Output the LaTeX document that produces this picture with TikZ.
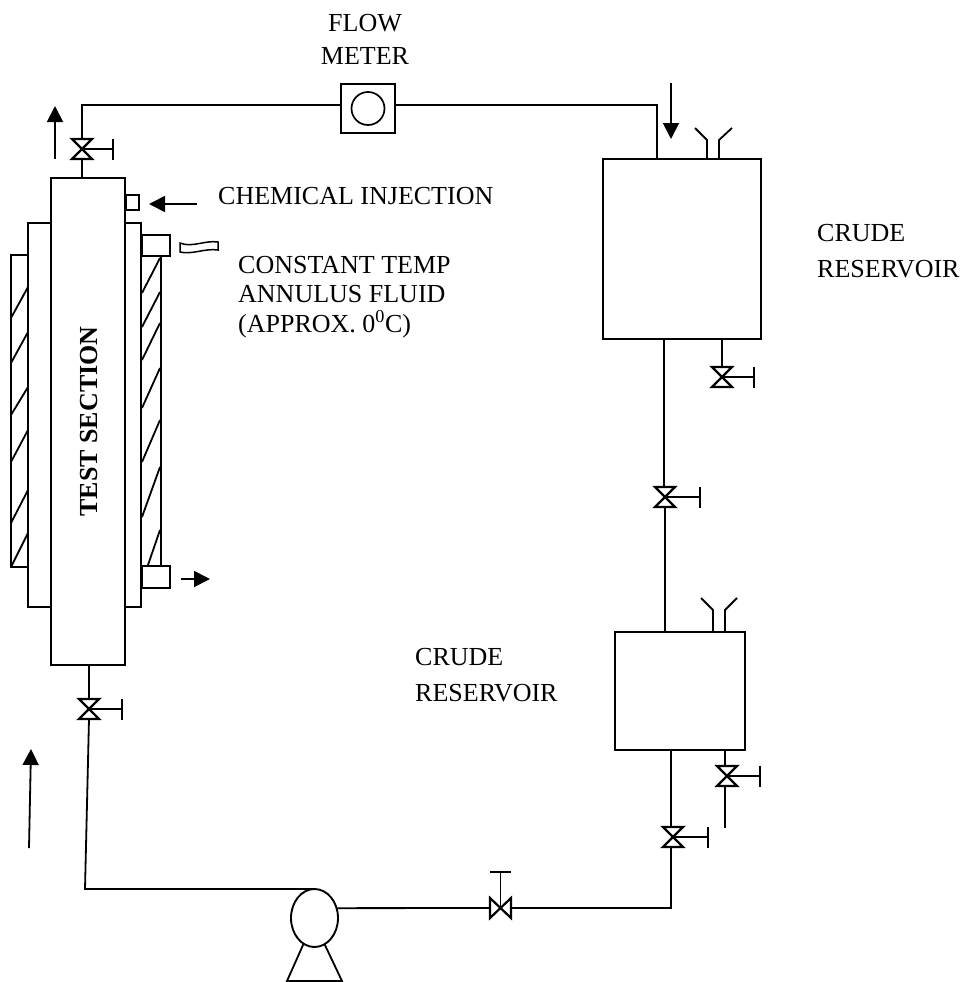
\documentclass[tikz,border=0pt]{standalone}
\usepackage{fontspec}
\setmainfont{Liberation Serif}
\usetikzlibrary{arrows.meta,positioning,shapes.geometric,calc}
\tikzset{
  pipe/.style={line width=1.8pt},
  vessel/.style={draw, line width=1.9pt, inner sep=0pt, outer sep=0pt},
  hatchline/.style={line width=1.8pt},
  valvebox/.style={inner sep=0pt, outer sep=0pt, minimum width=20pt, minimum height=20pt},
  valveline/.style={line width=2.2pt},
  handle/.style={line width=1.6pt},
  flow/.style={line width=1.8pt, -{Triangle[length=16pt,width=16pt]}},
  label/.style={font=\fontsize{26}{33}\selectfont, align=left, inner sep=0pt, anchor=base west},
  labelc/.style={label, align=center, anchor=base}
}
% valve on a vertical pipe, the handle goes to the right
\newcommand{\valve}[4]{
  \node[valvebox] (#1) at (#2,#3) {};
  \coordinate (#1h) at ($(#1.center)+(#4,0)$);
  \draw[valveline] (#1.north west) -- (#1.north east) -- (#1.south west) -- (#1.south east) -- cycle;
  \draw[handle] (#1.center) -- (#1h);
  \draw[handle] ([yshift=10.5pt]#1h) -- ([yshift=-10.5pt]#1h);
}

\begin{document}
\begin{tikzpicture}[x=1pt, y=-1pt]
  \useasboundingbox (0,0) rectangle (964,982);

  % test section
  \node[vessel, minimum width=17pt, minimum height=312pt] (hatchL) at (19.5,411) {};
  \node[vessel, minimum width=20pt, minimum height=310pt] (hatchR) at (151,411) {};
  \node[vessel, minimum width=23pt, minimum height=384pt] (annL) at (39.5,415) {};
  \node[vessel, minimum width=16pt, minimum height=384pt] (annR) at (133,415) {};
  \node[vessel, minimum width=74pt, minimum height=487pt] (test) at (88,421.5) {};
  \node[vessel, minimum width=28pt, minimum height=21pt] (nozT) at (156,245.5) {};
  \node[vessel, minimum width=28pt, minimum height=22pt] (nozB) at (156,577) {};
  \node[vessel, minimum width=13pt, minimum height=15pt] (inj) at (132.5,202.5) {};
  \foreach \ya/\yb in {318/287,363/332,415/387,462/430,523/490,567/533}
    \draw[hatchline] (11,\ya) -- (28,\yb);
  \foreach \ya/\yb in {293/258,327/292,360/323,408/368,462/420,517/467}
    \draw[hatchline] (142,\ya) -- (160,\yb);
  \draw[hatchline] (148,565) -- (160,530);
  \draw[line width=1.5pt] (180,243) .. controls (192,248) and (205,240) .. (218,242) -- (218,250) .. controls (205,248) and (192,255) .. (180,252) -- cycle;
  \node[rotate=90, font=\fontsize{26}{33}\selectfont\bfseries, inner sep=0pt, anchor=base] (testlabel) at (97,421.5) {TEST SECTION};

  % reservoirs and meter
  \node[vessel, minimum width=158pt, minimum height=180pt] (res1) at (682,249) {};
  \node[vessel, minimum width=130pt, minimum height=118pt] (res2) at (680,691) {};
  \node[vessel, minimum width=54pt, minimum height=49pt] (meter) at (368,108.5) {};
  \node[draw, circle, line width=1.7pt, minimum size=33pt, inner sep=0pt] (meterc) at (meter.center) {};
  \node[draw, ellipse, line width=1.9pt, minimum width=47pt, minimum height=58pt, inner sep=0pt, outer sep=0pt] (pump) at (314.5,918) {};

  \draw[pipe] (695,128) -- (707,140) -- (707,159);
  \draw[pipe] (732,128) -- (719,140) -- (719,159);
  \draw[pipe] (701,598) -- (713,610) -- (713,632);
  \draw[pipe] (737,598) -- (725,610) -- (725,632);

  % valves
  \valve{vtop}{82}{149}{31}
  \valve{vbot}{89}{709}{33}
  \valve{vdrain}{722}{377}{32}
  \valve{vmid}{665}{497}{35}
  \valve{vdrainb}{727}{776}{33}
  \valve{vlow}{673}{837}{35}
  \node[valvebox, minimum width=21pt] (vpump) at (500.5,908) {};
  \coordinate (vpumph) at (500.5,872);
  \draw[valveline] (vpump.north west) -- (vpump.south west) -- (vpump.north east) -- (vpump.south east) -- cycle;
  \draw[handle] (vpump.center) -- (vpumph);
  \draw[handle] ([xshift=-10.5pt]vpumph) -- ([xshift=10.5pt]vpumph);

  % pipes
  \coordinate (topL) at (82,105);
  \coordinate (topR) at (657,105);
  \coordinate (botL) at (85,889);
  \coordinate (botR) at (671,908);
  \coordinate (drainend) at (725,828);
  \draw[pipe] (test.north -| vtop) -- (vtop.south);
  \draw[pipe] (vtop.north) -- (topL) -- (topL -| meter.west);
  \draw[pipe] (topL -| meter.east) -- (topR) -- (topR |- res1.north);
  \draw[pipe] (vmid.north -| 664,0) -- (664,0 |- res1.south);
  \draw[pipe] (vdrain.north) -- (vdrain.north |- res1.south);
  \draw[pipe] (vmid.south) -- (vmid.south |- res2.north);
  \draw[pipe] (botR |- res2.south) -- (botR |- vlow.north);
  \draw[pipe] (botR |- vlow.south) -- (botR) -- (vpump.east);
  \draw[pipe] (725,750) -- (725,766);
  \draw[pipe] (725,786) -- (drainend);
  \draw[pipe] (pump.24) -- (vpump.west);
  \draw[pipe] (pump.north) -- (botL) -- (vbot.south);
  \draw[pipe] (vbot.north) -- (vbot.north |- test.south);
  \coordinate (legL) at (287,981);
  \coordinate (legR) at (342,981);
  \draw[pipe] (pump.247) -- (legL) -- (legR) -- (pump.291);

  % flow arrows
  \coordinate (a1s) at (55,159);
  \coordinate (a1e) at (55,106);
  \coordinate (a2s) at (671,83);
  \coordinate (a2e) at (671,139);
  \coordinate (a3s) at (197,204);
  \coordinate (a3e) at (149,204);
  \coordinate (a4s) at (181,579);
  \coordinate (a4e) at (210,579);
  \coordinate (a5s) at (29,848);
  \coordinate (a5e) at (31,749);
  \draw[flow] (a1s) -- (a1e);
  \draw[flow] (a2s) -- (a2e);
  \draw[flow] (a3s) -- (a3e);
  \draw[flow] (a4s) -- (a4e);
  \draw[flow] (a5s) -- (a5e);

  % labels
  \node[labelc] (lmeter) at (365,65) {FLOW\\METER};
  \node[label] (linj) at (218,204) {CHEMICAL INJECTION};
  \node[label] (lannulus) at (238,332) {CONSTANT TEMP\\[-3.5pt]ANNULUS FLUID\\[-3.5pt](APPROX. 0\textsuperscript{0}C)};
  \node[label] (lres1) at (817,277) {CRUDE\\[3pt]RESERVOIR};
  \node[label] (lres2) at (415,701) {CRUDE\\[3pt]RESERVOIR};
\end{tikzpicture}
\end{document}
